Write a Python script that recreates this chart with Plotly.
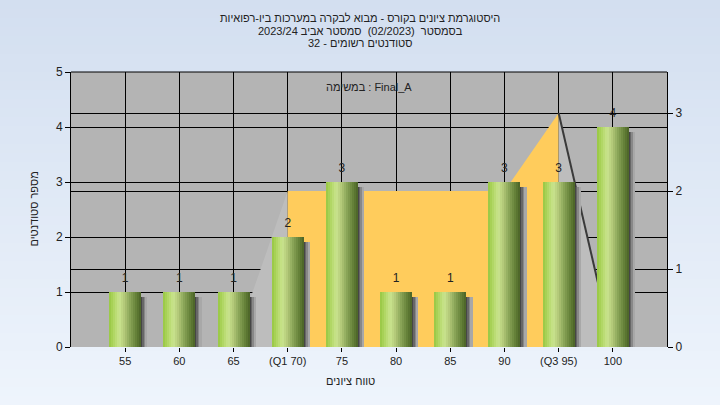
import plotly.graph_objects as go

# ---------------- data ----------------
grades = [55, 60, 65, 70, 75, 80, 85, 90, 95, 100]
tick_labels = ["55", "60", "65", "(Q1 70)", "75", "80", "85", "90", "(Q3 95)", "100"]
counts = [1, 1, 1, 2, 3, 1, 1, 3, 3, 4]

lower_x = [65, 70]
lower_y = [0, 2]
iqr_x = [70, 90, 95]
iqr_y = [2, 2, 3]
upper_x = [95, 100]
upper_y = [3, 0]

left_ticks = [0, 1, 2, 3, 4, 5]
right_ticks = [0, 1, 2, 3]

title_lines = [
    "היסטוגרמת ציונים בקורס - מבוא לבקרה במערכות ביו-רפואיות",
    "בסמסטר  (02/2023)  סמסטר אביב 2023/24",
    "סטודנטים רשומים - 32",
]
legend_text = "במשימה : Final_A"
x_title = "טווח ציונים"
y_title = "מספר סטודנטים"

# ---------------- layout geometry ----------------
W, H = 720, 405
L, R, T, B = 71, 53, 72, 58
PW, PH = W - L - R, H - T - B
FONT = "Liberation Sans, DejaVu Sans, Arial, sans-serif"
TXT = "#222222"


def px_to_py(y):
    return (H - B - y) / PH


def px_to_px(x):
    return (x - L) / PW


def lerp(c1, c2, t):
    return tuple(int(round(a + (b - a) * t)) for a, b in zip(c1, c2))


def grad(stops, t):
    for (t0, c0), (t1, c1) in zip(stops[:-1], stops[1:]):
        if t0 <= t <= t1:
            return "rgb(%d,%d,%d)" % lerp(c0, c1, (t - t0) / (t1 - t0) if t1 > t0 else 0)
    return "rgb(%d,%d,%d)" % stops[-1][1]


fig = go.Figure()

# ---------------- area overlay (secondary scale, right) ----------------
fig.add_trace(go.Scatter(x=lower_x, y=lower_y, mode="lines", fill="tozeroy",
                         fillcolor="#bdbdbd", line=dict(width=0), yaxis="y",
                         hoverinfo="skip", showlegend=False))
fig.add_trace(go.Scatter(x=iqr_x, y=iqr_y, mode="lines", fill="tozeroy",
                         fillcolor="#ffcc5c", line=dict(width=0), yaxis="y",
                         hoverinfo="skip", showlegend=False))
fig.add_trace(go.Scatter(x=upper_x, y=upper_y, mode="lines", fill="tozeroy",
                         fillcolor="#bdbdbd", line=dict(width=2, color="#3a3a3a"), yaxis="y",
                         hoverinfo="skip", showlegend=False))

# ---------------- bars (primary scale, left) ----------------
x_range = [50, 105]
unit_px = PW / (x_range[1] - x_range[0])
bar_w = 32 / unit_px

# shadow
sh_stops = [(0.0, (70, 70, 70)), (0.5, (120, 120, 120)), (1.0, (168, 168, 168))]
n_sh = 4
sh_w = 6 / unit_px
for i in range(n_sh):
    fig.add_trace(go.Bar(x=grades, y=counts, base=-0.09, yaxis="y2",
                         width=sh_w / n_sh * 1.2, offset=bar_w / 2 + i * sh_w / n_sh,
                         marker=dict(color=grad(sh_stops, i / (n_sh - 1)), line=dict(width=0)),
                         hoverinfo="skip", showlegend=False))

# cylinder gradient
stops = [(0.0, (150, 198, 66)), (0.12, (172, 212, 92)), (0.32, (202, 228, 142)),
         (0.48, (178, 200, 120)), (0.65, (138, 165, 88)), (0.85, (100, 128, 56)),
         (1.0, (74, 98, 38))]
n_sl = 16
sl_w = bar_w / n_sl
for i in range(n_sl):
    fig.add_trace(go.Bar(x=grades, y=counts, yaxis="y2",
                         width=sl_w * (1.35 if i < n_sl - 1 else 1.0), offset=-bar_w / 2 + i * sl_w,
                         marker=dict(color=grad(stops, (i + 0.5) / n_sl), line=dict(width=0)),
                         hoverinfo="skip", showlegend=False))

# value labels
fig.add_trace(go.Scatter(x=grades, y=counts, yaxis="y2", mode="markers+text",
                         marker=dict(size=10, opacity=0),
                         text=[str(c) for c in counts], textposition="top center",
                         textfont=dict(size=12, color=TXT, family=FONT),
                         cliponaxis=False, hoverinfo="skip", showlegend=False))

# ---------------- background shapes ----------------
shapes = []
n_strips = 45
top_c, bot_c = (211, 223, 240), (238, 244, 252)
for i in range(n_strips):
    y0 = H * i / n_strips
    y1 = H * (i + 1) / n_strips + 1
    shapes.append(dict(type="rect", xref="paper", yref="paper", layer="below",
                       x0=px_to_px(0), x1=px_to_px(W), y0=px_to_py(y1), y1=px_to_py(y0),
                       fillcolor="rgb(%d,%d,%d)" % lerp(top_c, bot_c, i / (n_strips - 1)),
                       line=dict(width=0)))
shapes.append(dict(type="rect", xref="paper", yref="paper", layer="below",
                   x0=0, x1=1, y0=0, y1=1, fillcolor="#b4b4b4", line=dict(width=0)))
shapes.append(dict(type="line", xref="paper", yref="paper", x0=0, x1=1, y0=1, y1=1,
                   line=dict(color="black", width=1)))

# ---------------- annotations ----------------
ann = []
for line, ypx in zip(title_lines, [18, 30.5, 43]):
    ann.append(dict(text=line, xref="paper", yref="paper",
                    x=px_to_px(360), y=px_to_py(ypx), xanchor="center", yanchor="middle",
                    showarrow=False, font=dict(size=11, color=TXT, family=FONT)))
ann.append(dict(text=legend_text, xref="paper", yref="paper",
                x=px_to_px(369), y=px_to_py(86.5), xanchor="center", yanchor="middle",
                showarrow=False, font=dict(size=11, color=TXT, family=FONT)))
ann.append(dict(text=x_title, xref="paper", yref="paper",
                x=px_to_px(350), y=px_to_py(381), xanchor="center", yanchor="middle",
                showarrow=False, font=dict(size=11, color=TXT, family=FONT)))
ann.append(dict(text=y_title, xref="paper", yref="paper", textangle=-90,
                x=px_to_px(33), y=px_to_py(209.5), xanchor="center", yanchor="middle",
                showarrow=False, font=dict(size=11, color=TXT, family=FONT)))

axis_font = dict(size=12, color=TXT, family=FONT)
fig.update_layout(
    width=W, height=H,
    margin=dict(l=L, r=R, t=T, b=B, pad=0),
    paper_bgcolor="#e4ecf8", plot_bgcolor="rgba(0,0,0,0)",
    barmode="overlay", bargap=0,
    showlegend=False,
    shapes=shapes, annotations=ann,
    xaxis=dict(range=x_range, tickmode="array", tickvals=grades, ticktext=tick_labels,
               ticks="outside", ticklen=4, tickcolor="black", showgrid=True,
               gridcolor="black", gridwidth=1, zeroline=False, showline=False,
               tickfont=dict(size=11, color=TXT, family=FONT), fixedrange=True),
    yaxis=dict(range=[0, (H - B - T) / 78.0], side="right", tickmode="array",
               tickvals=right_ticks, ticks="outside", ticklen=5, tickcolor="black",
               showgrid=True, gridcolor="black", gridwidth=1, zeroline=False,
               showline=True, linecolor="black", linewidth=1, tickfont=axis_font,
               fixedrange=True),
    yaxis2=dict(range=[0, 5], side="left", overlaying="y", tickmode="array",
                tickvals=left_ticks, ticks="outside", ticklen=5, tickcolor="black",
                showgrid=True, gridcolor="black", gridwidth=1, zeroline=False,
                showline=True, linecolor="black", linewidth=1, tickfont=axis_font,
                fixedrange=True),
)

fig.write_html("out.html", config={"displayModeBar": False},
               post_script="document.body.style.margin='0px';")
